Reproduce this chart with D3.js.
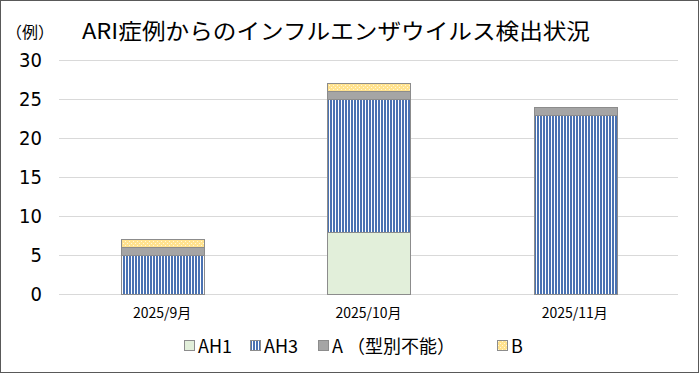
<!DOCTYPE html>
<html>
<head>
<meta charset="utf-8">
<script src="https://cdn.jsdelivr.net/npm/d3@7"></script>
<style>
body{margin:0;background:#fff;}
text{font-family:"Noto Sans CJK JP","Noto Sans",sans-serif;fill:#000;}
</style>
</head>
<body>
<div id="content"></div>
<script>
var categories = ['2025/9月', '2025/10月', '2025/11月'];
var seriesNames = ['AH1', 'AH3', 'A （型別不能）', 'B'];
var ah1 = [0, 8, 0];
var ah3 = [5, 17, 23];
var aUntyped = [1, 1, 1];
var bType = [1, 1, 0];
var yTicks = [0, 5, 10, 15, 20, 25, 30];

var width = 699, height = 373;
var margin = {top: 60, right: 21, bottom: 79, left: 59};

var svg = d3.select('#content').append('svg')
	.attr('width', width).attr('height', height);

// patterns
var defs = svg.append('defs');
var stripe = defs.append('pattern').attr('id', 'stripe')
	.attr('patternUnits', 'userSpaceOnUse').attr('width', 3).attr('height', 3);
stripe.append('rect').attr('width', 3).attr('height', 3).attr('fill', '#fff');
stripe.append('rect').attr('width', 2).attr('height', 3).attr('fill', '#4a72b2');

var dots = defs.append('pattern').attr('id', 'dots')
	.attr('patternUnits', 'userSpaceOnUse').attr('width', 4).attr('height', 4);
dots.append('rect').attr('width', 4).attr('height', 4).attr('fill', '#ffe28f');
dots.append('rect').attr('x', 1).attr('y', 1).attr('width', 1).attr('height', 1).attr('fill', '#fff8dc');
dots.append('rect').attr('x', 3).attr('y', 3).attr('width', 1).attr('height', 1).attr('fill', '#fff8dc');

var fills = ['#e2efda', 'url(#stripe)', '#a5a5a5', 'url(#dots)'];

// frame
svg.append('rect').attr('x', 0.5).attr('y', 0.5)
	.attr('width', width - 1).attr('height', height - 1)
	.attr('fill', 'none').attr('stroke', '#595959');

var x = d3.scaleBand().domain(categories)
	.range([margin.left, width - margin.right]).paddingInner(0.6).paddingOuter(0.3);
var y = d3.scaleLinear().domain([0, 30]).range([height - margin.bottom, margin.top]);

// grid
svg.append('g').selectAll('line').data(yTicks).enter().append('line')
	.attr('x1', margin.left).attr('x2', width - margin.right)
	.attr('y1', function(d){ return Math.round(y(d)) + 0.5; })
	.attr('y2', function(d){ return Math.round(y(d)) + 0.5; })
	.attr('stroke', '#d9d9d9').attr('stroke-width', 1);

// y labels
svg.append('g').selectAll('text').data(yTicks).enter().append('text')
	.attr('x', 42).attr('y', function(d){ return y(d) + 7; })
	.attr('text-anchor', 'end').style('font-size', '20px')
	.style('font-family', '"Liberation Sans Narrow","DejaVu Sans Condensed",sans-serif')
	.text(function(d){ return d; });

// stacked bars
var rows = categories.map(function(c, i){
	return {cat: c, AH1: ah1[i], AH3: ah3[i], A: aUntyped[i], B: bType[i]};
});
var stack = d3.stack().keys(['AH1', 'AH3', 'A', 'B'])(rows);

svg.append('g').selectAll('g').data(stack).enter().append('g')
	.attr('fill', function(d, i){ return fills[i]; })
	.selectAll('rect').data(function(d){ return d; }).enter()
	.filter(function(d){ return d[1] - d[0] > 0; })
	.append('rect')
	.attr('x', function(d){ return Math.round(x(d.data.cat)) + 0.5; })
	.attr('width', Math.round(x.bandwidth()))
	.attr('y', function(d){ return Math.round(y(d[1])) + 0.5; })
	.attr('height', function(d){ return Math.round(y(d[0])) - Math.round(y(d[1])); })
	.attr('stroke', '#8c8c8c').attr('stroke-width', 1);

// x labels
svg.append('g').selectAll('text').data(categories).enter().append('text')
	.attr('x', function(d){ return x(d) + x.bandwidth() / 2; })
	.attr('y', 318).attr('text-anchor', 'middle').style('font-size', '14px')
	.text(function(d){ return d; });

// title
svg.append('text').attr('x', 82).attr('y', 39)
	.style('font-size', '22px').attr('textLength', 508).attr('lengthAdjust', 'spacingAndGlyphs')
	.text('ARI症例からのインフルエンザウイルス検出状況');
svg.append('text').attr('x', 6).attr('y', 38)
	.style('font-size', '16px').text('（例）');

// legend
var legX = [184, 250, 318, 497];
var leg = svg.append('g').selectAll('g').data(seriesNames).enter().append('g')
	.attr('transform', function(d, i){ return 'translate(' + legX[i] + ',340)'; });
leg.append('rect').attr('x', 0.5).attr('y', 0.5).attr('width', 10).attr('height', 10)
	.attr('fill', function(d, i){ return fills[i]; })
	.attr('stroke', '#8c8c8c');
leg.append('text').attr('x', 14).attr('y', 13).style('font-size', '18px')
	.text(function(d){ return d; });
</script>
</body>
</html>
